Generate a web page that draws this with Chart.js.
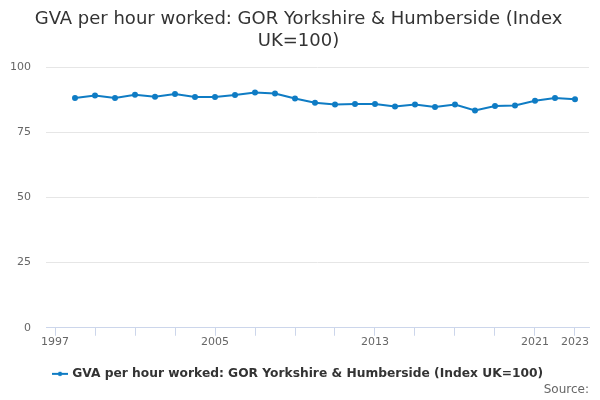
<!DOCTYPE html>
<html>
<head>
<meta charset="utf-8">
<script src="https://cdn.jsdelivr.net/npm/chart.js@4/dist/chart.umd.min.js"></script>
<style>
  body { margin: 0; background: #fff; }
  #wrap { position: relative; width: 600px; height: 400px; }
  #source { position: absolute; right: 11px; top: 382px; font: 12px "DejaVu Sans", sans-serif; color: #666; }
</style>
</head>
<body>
<div id="wrap">
  <canvas id="chart" width="600" height="400"></canvas>
  <div id="source">Source:</div>
</div>
<script>
// years and index values (UK=100)
var years = [1998, 1999, 2000, 2001, 2002, 2003, 2004, 2005, 2006, 2007, 2008, 2009, 2010,
             2011, 2012, 2013, 2014, 2015, 2016, 2017, 2018, 2019, 2020, 2021, 2022, 2023];
var gva = [88.2, 89.1, 88.2, 89.4, 88.7, 89.7, 88.6, 88.6, 89.3, 90.3, 89.9, 88.0, 86.4,
           85.7, 85.9, 85.9, 84.9, 85.7, 84.7, 85.7, 83.4, 85.1, 85.3, 87.1, 88.2, 87.7];
var xTicks = [1997, 1999, 2001, 2003, 2005, 2007, 2009, 2011, 2013, 2015, 2017, 2019, 2021, 2023];
var xLabels = [1997, 2005, 2013, 2021, 2023];
var yTicks = [0, 25, 50, 75, 100];

var blue = "#0f7cc4";

// legend marker: short line with a dot
var marker = document.createElement("canvas");
marker.width = 16; marker.height = 8;
var mc = marker.getContext("2d");
mc.strokeStyle = blue; mc.lineWidth = 2;
mc.beginPath(); mc.moveTo(0, 4); mc.lineTo(16, 4); mc.stroke();
mc.fillStyle = blue;
mc.beginPath(); mc.arc(8, 4, 2.2, 0, Math.PI * 2); mc.fill();

var points = years.map(function (y, i) { return { x: y, y: gva[i] }; });

new Chart(document.getElementById("chart"), {
  type: "line",
  data: {
    datasets: [{
      label: "GVA per hour worked: GOR Yorkshire & Humberside (Index UK=100)",
      data: points,
      borderColor: blue,
      backgroundColor: blue,
      borderWidth: 2,
      pointRadius: 2,
      pointHoverRadius: 2.5,
      pointStyle: "circle",
      tension: 0
    }]
  },
  options: {
    responsive: false,
    animation: false,
    layout: { padding: { left: 8, right: 11, top: 4, bottom: 10 } },
    plugins: {
      title: {
        display: true,
        text: ["GVA per hour worked: GOR Yorkshire & Humberside (Index", "UK=100)"],
        color: "#333",
        font: { family: "DejaVu Sans", size: 18, weight: "normal", lineHeight: 1.2 },
        padding: { top: 5, bottom: 15 }
      },
      legend: {
        position: "bottom",
        labels: {
          color: "#333",
          font: { family: "DejaVu Sans", size: 12.25, weight: "bold" },
          usePointStyle: true,
          generateLabels: function (chart) {
            var items = Chart.defaults.plugins.legend.labels.generateLabels(chart);
            items.forEach(function (it) { it.pointStyle = marker; });
            return items;
          },
          padding: 10
        }
      },
      tooltip: { enabled: false }
    },
    scales: {
      x: {
        type: "linear",
        min: 1996.55,
        max: 2023.7,
        afterBuildTicks: function (axis) {
          axis.ticks = xTicks.map(function (v) { return { value: v }; });
        },
        afterFit: function (axis) { axis.height = 30; },
        grid: { drawOnChartArea: false, color: "#ccd6eb", tickLength: 8 },
        border: { color: "#ccd6eb" },
        ticks: {
          autoSkip: false,
          maxRotation: 0,
          padding: 0,
          color: "#666",
          font: { family: "DejaVu Sans", size: 11 },
          callback: function (v) { return xLabels.indexOf(v) >= 0 ? String(v) : ""; }
        }
      },
      y: {
        min: 0,
        max: 100,
        afterBuildTicks: function (axis) {
          axis.ticks = yTicks.map(function (v) { return { value: v }; });
        },
        afterFit: function (axis) { axis.width = 38; },
        grid: { color: "#e6e6e6", drawTicks: false },
        border: { display: false },
        ticks: {
          padding: 15,
          color: "#666",
          font: { family: "DejaVu Sans", size: 11 }
        }
      }
    }
  }
});
</script>
</body>
</html>
